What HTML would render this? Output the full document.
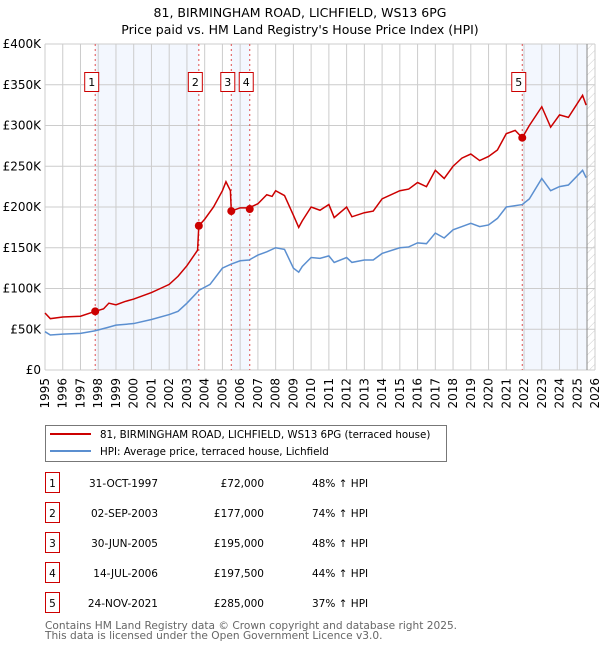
<!DOCTYPE html>
<html><head><meta charset="utf-8"><style>
body{margin:0;background:#fff;}
svg{display:block;font-family:"DejaVu Sans","Liberation Sans",sans-serif;}
</style></head><body>
<svg id="c" width="600" height="650" xmlns="http://www.w3.org/2000/svg">
<text x="300" y="17" text-anchor="middle" font-size="12.5">81, BIRMINGHAM ROAD, LICHFIELD, WS13 6PG</text>
<text x="300" y="34" text-anchor="middle" font-size="12.5">Price paid vs. HM Land Registry's House Price Index (HPI)</text>
<g id="plot"></g>
<g>
<rect x="45.5" y="425.5" width="401" height="36" fill="#fff" stroke="#777"/>
<line x1="50" y1="434" x2="91" y2="434" stroke="#cc0000" stroke-width="2"/>
<text x="100" y="438" font-size="10.3">81, BIRMINGHAM ROAD, LICHFIELD, WS13 6PG (terraced house)</text>
<line x1="50" y1="451" x2="91" y2="451" stroke="#5b8fd0" stroke-width="2"/>
<text x="100" y="455" font-size="10.3">HPI: Average price, terraced house, Lichfield</text>
</g>
<g id="table" font-size="10.5"></g>
<text x="45" y="629" font-size="10.6" fill="#666">Contains HM Land Registry data © Crown copyright and database right 2025.</text>
<text x="45" y="639" font-size="10.6" fill="#666">This data is licensed under the Open Government Licence v3.0.</text>
</svg>
<script>
const hpiYears=[1995,1995.3,1996,1997,1997.8,1998.5,1999,2000,2001,2002,2002.5,2003,2003.7,2004.3,2005,2005.5,2006,2006.5,2007,2007.5,2008,2008.5,2009,2009.3,2009.5,2010,2010.5,2011,2011.3,2012,2012.3,2013,2013.5,2014,2015,2015.5,2016,2016.5,2017,2017.5,2018,2018.5,2019,2019.5,2020,2020.5,2021,2021.9,2022.3,2023,2023.5,2024,2024.5,2025.3,2025.5];
const hpiValues=[47,43,44,45,48,52,55,57,62,68,72,82,98,105,125,130,134,135,141,145,150,148,125,120,127,138,137,140,132,138,132,135,135,143,150,151,156,155,168,162,172,176,180,176,178,186,200,203,210,235,220,225,227,245,236];
const priceYears=[1995,1995.3,1996,1997,1997.83,1998.3,1998.6,1999,1999.5,2000,2001,2001.5,2002,2002.5,2003,2003.6,2003.67,2004,2004.5,2005,2005.2,2005.45,2005.5,2006,2006.5,2007,2007.5,2007.8,2008,2008.5,2009,2009.3,2009.5,2010,2010.5,2011,2011.3,2012,2012.3,2013,2013.5,2014,2015,2015.5,2016,2016.5,2017,2017.5,2018,2018.5,2019,2019.5,2020,2020.5,2021,2021.5,2021.9,2022.3,2023,2023.5,2024,2024.5,2025.3,2025.5];
const priceValues=[70,63,65,66,72,75,82,80,84,87,95,100,105,115,128,147,177,185,200,220,231,220,195,199,199,204,215,213,220,214,190,175,183,200,196,203,187,200,188,193,195,210,220,222,230,225,245,235,250,260,265,257,262,270,290,294,285,300,323,298,313,310,337,325];
const saleLabels=["1","2","3","4","5"];
const saleYears=[1997.83,2003.67,2005.5,2006.54,2021.9];
const saleValues=[72,177,195,197.5,285];
const saleDates=["31-OCT-1997","02-SEP-2003","30-JUN-2005","14-JUL-2006","24-NOV-2021"];
const salePrices=["£72,000","£177,000","£195,000","£197,500","£285,000"];
const salePct=["48% ↑ HPI","74% ↑ HPI","48% ↑ HPI","44% ↑ HPI","37% ↑ HPI"];
const yTicks=[0,50,100,150,200,250,300,350,400];
const yTickLabels=["£0","£50K","£100K","£150K","£200K","£250K","£300K","£350K","£400K"];
const xTicks=[1995,1996,1997,1998,1999,2000,2001,2002,2003,2004,2005,2006,2007,2008,2009,2010,2011,2012,2013,2014,2015,2016,2017,2018,2019,2020,2021,2022,2023,2024,2025,2026];
const dataEnd=2025.55;

const NS="http://www.w3.org/2000/svg";
const L=45,R=595,T=44,B=370;
const x=t=>L+(t-1995)/(2026-1995)*(R-L);
const yv=v=>B-v/400*(B-T);
function mk(tag,attrs,parent){const e=document.createElementNS(NS,tag);for(const k in attrs)e.setAttribute(k,attrs[k]);parent.appendChild(e);return e;}
const plot=document.getElementById('plot');
const bands=[[saleYears[0],saleYears[1]],[saleYears[2],saleYears[3]],[saleYears[4],dataEnd]];
bands.forEach(b=>{const r=mk('rect',{x:x(b[0]),y:T,width:x(b[1])-x(b[0]),height:B-T,fill:'#f3f7fe'},plot);

});
const defs=mk('defs',{},plot);
const pat=mk('pattern',{id:'h',width:6,height:6,patternUnits:'userSpaceOnUse',patternTransform:'rotate(45)'},defs);
mk('line',{x1:0,y1:0,x2:0,y2:6,stroke:'#ccc','stroke-width':1},pat);
const hr=mk('rect',{x:x(dataEnd),y:T,width:R-x(dataEnd),height:B-T,fill:'url(#h)'},plot);


xTicks.forEach(t=>{const l=mk('line',{x1:x(t),x2:x(t),y1:T,y2:B,stroke:'#ccc','stroke-width':1},plot);


const tx=mk('text',{x:0,y:0,'font-size':12,'text-anchor':'end',transform:`translate(${x(t)+4},${B+8}) rotate(-90)`},plot);
tx.textContent=t;

});
yTicks.forEach((t,i)=>{const l=mk('line',{x1:L,x2:R,y1:yv(t),y2:yv(t),stroke:'#ccc','stroke-width':1},plot);


const tx=mk('text',{x:L-4,y:yv(t)+4,'font-size':12,'text-anchor':'end'},plot);
tx.textContent=yTickLabels[i];

});
const dl=mk('line',{x1:x(dataEnd),x2:x(dataEnd),y1:T,y2:B,stroke:'#888','stroke-width':1},plot);


saleYears.forEach(s=>{const l=mk('line',{x1:x(s),x2:x(s),y1:T,y2:B,stroke:'#e05050','stroke-width':1,'stroke-dasharray':'2,3'},plot);

});
const hp=mk('polyline',{points:hpiYears.map((t,i)=>x(t)+','+yv(hpiValues[i])).join(' '),fill:'none',stroke:'#5b8fd0','stroke-width':1.5},plot);


const pp=mk('polyline',{points:priceYears.map((t,i)=>x(t)+','+yv(priceValues[i])).join(' '),fill:'none',stroke:'#cc0000','stroke-width':1.5},plot);


saleYears.forEach((s,i)=>{const c=mk('circle',{cx:x(s),cy:yv(saleValues[i]),r:4,fill:'#cc0000'},plot);

});
saleYears.forEach((s,i)=>{
const cx=x(s)-3.5;
const g=mk('g',{},plot);


mk('rect',{x:cx-7,y:72.5,width:14,height:19,fill:'#fff',stroke:'#cc0000','stroke-width':1},g);
const t=mk('text',{x:cx,y:86,'font-size':11,'text-anchor':'middle'},g);t.textContent=saleLabels[i];});
const tb=document.getElementById('table');
saleLabels.forEach((lb,i)=>{const cy=483+i*30;
const g=mk('g',{},tb);


mk('rect',{x:45.5,y:cy-10.5,width:14,height:20,fill:'#fff',stroke:'#cc0000','stroke-width':1},g);
const a=mk('text',{x:52.5,y:cy+4,'text-anchor':'middle'},g);a.textContent=lb;
const d=mk('text',{x:158,y:cy+4,'text-anchor':'end'},g);d.textContent=saleDates[i];
const p=mk('text',{x:264,y:cy+4,'text-anchor':'end'},g);p.textContent=salePrices[i];
const q=mk('text',{x:312,y:cy+4},g);q.textContent=salePct[i];});
</script>
</body></html>
